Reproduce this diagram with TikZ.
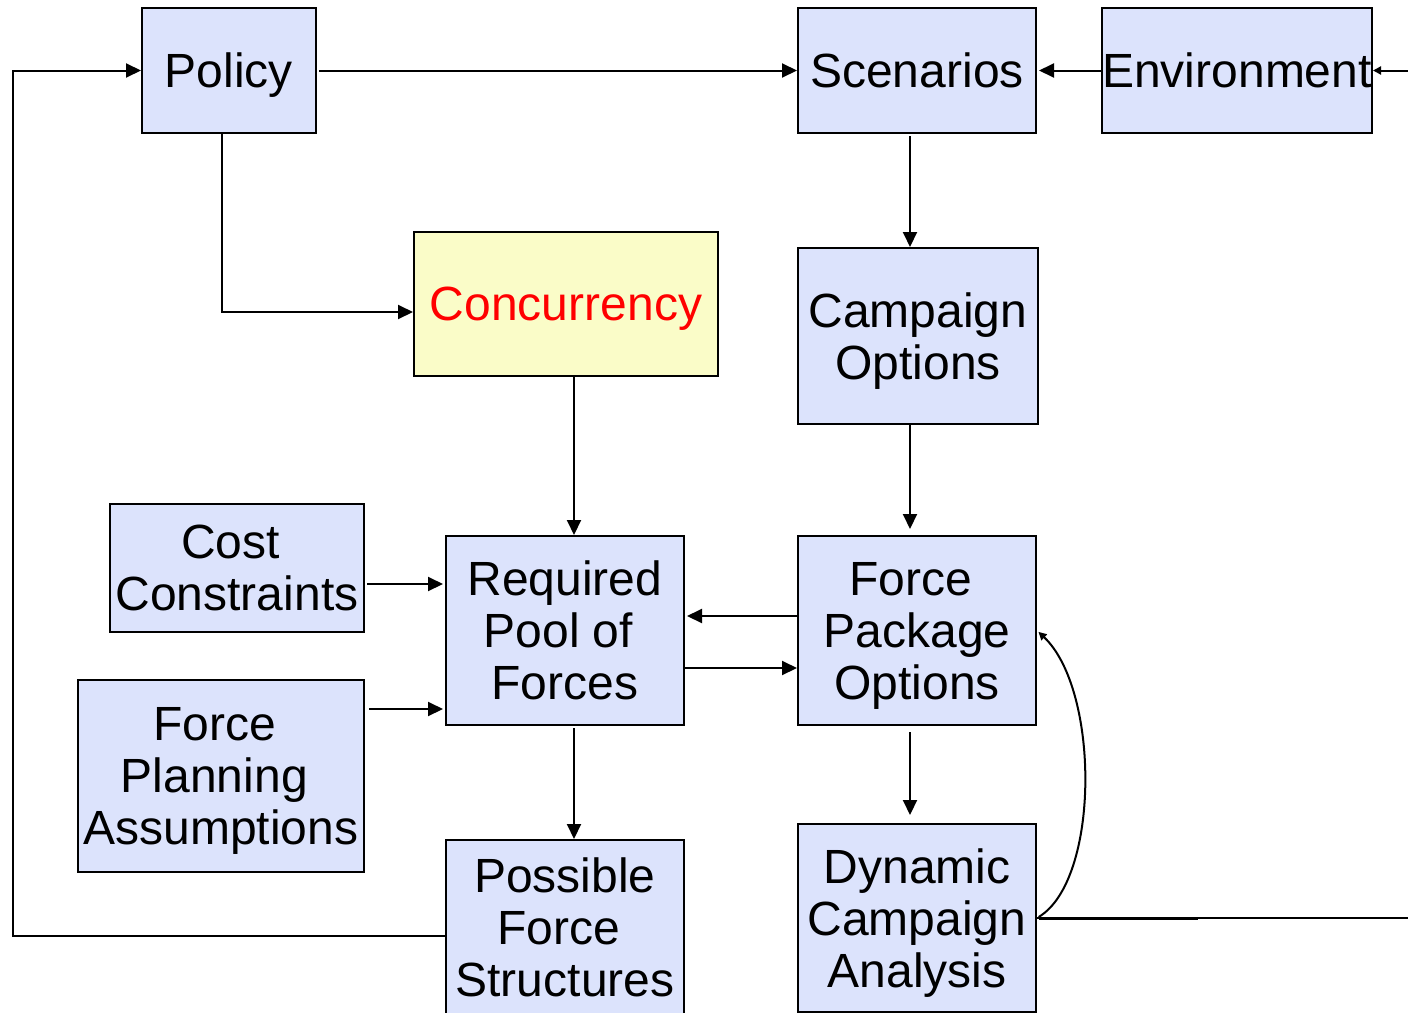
\documentclass[tikz,border=0pt]{standalone}
\usepackage{fontspec}
\setmainfont{Liberation Sans}
\usetikzlibrary{arrows.meta}
\definecolor{boxblue}{HTML}{DCE3FC}
\definecolor{boxyellow}{HTML}{FAFCC8}
\newcommand{\tsp}{\rule{13.3pt}{0pt}}
\begin{document}
\begin{tikzpicture}[x=1pt,y=-1pt,
  box/.style={draw=black, line width=2pt, fill=boxblue, inner sep=0pt, align=center,
              text depth=0pt, font=\fontsize{48}{52}\selectfont},
  arr/.style={line width=2pt, -{Triangle[length=15pt,width=14pt]}},
  sarr/.style={line width=2pt, -{Triangle[length=8pt,width=8pt]}},
  ln/.style={line width=2pt}]
\useasboundingbox (0,0) rectangle (1408,1012);
\clip (0,0) rectangle (1408,1012);
% nodes
\node[box, minimum width=174pt, minimum height=125pt] (policy) at (229,70.5) {Policy};
\node[box, minimum width=238pt, minimum height=125pt] (scen) at (917,70.5) {Scenarios};
\node[box, minimum width=270pt, minimum height=125pt] (env) at (1237,70.5) {Environment};
\node[box, fill=boxyellow, text=red, minimum width=304pt, minimum height=144pt] (conc) at (566,304) {Concurrency};
\node[box, minimum width=240pt, minimum height=176pt] (camp) at (918,336) {Campaign\\Options};
\node[box, minimum width=254pt, minimum height=128pt] (cost) at (237,568) {Cost\tsp\\Constraints};
\node[box, minimum width=238pt, minimum height=189pt] (rpf) at (565,630.5) {Required\\Pool of\tsp\\Forces};
\node[box, minimum width=238pt, minimum height=189pt] (fpo) at (917,630.5) {Force\tsp\\Package\\Options};
\node[box, minimum width=286pt, minimum height=192pt] (fpa) at (221,776) {Force\tsp\\Planning\tsp\\Assumptions};
\node[box, minimum width=238pt, minimum height=174pt] (pfs) at (565,927) {Possible\\Force\tsp\\Structures};
\node[box, minimum width=238pt, minimum height=188pt] (dca) at (917,918) {Dynamic\\Campaign\\Analysis};
% helper coordinates
\coordinate (colA) at (910,0);
\coordinate (colC) at (574,0);
\coordinate (colP) at (222,0);
\coordinate (pc) at (222,312);
\coordinate (lb) at (13,936);
\coordinate (lt) at (13,70.5);
\coordinate (rin) at (1410,70.5);
\coordinate (r1) at (0,584);
\coordinate (r2) at (0,709);
\coordinate (r3) at (0,616);
\coordinate (r4) at (0,668);
\coordinate (mid) at (1198,918);
\coordinate (rout) at (1410,918);
% connectors
\draw[arr, shorten <=2pt] (policy.east) -- (scen.west);
\draw[arr, shorten >=2pt] (env.west) -- (scen.east);
\draw[sarr] (rin) -- (env.east);
\draw[arr] (pfs.west |- lb) -- (lb) -- (lt) -- (policy.west);
\draw[arr] (policy.south -| colP) -- (pc) -- (conc.west |- pc);
\draw[arr, shorten <=2pt] (scen.south -| colA) -- (camp.north -| colA);
\draw[arr, shorten >=6pt] (camp.south -| colA) -- (fpo.north -| colA);
\draw[arr] (conc.south -| colC) -- (rpf.north -| colC);
\draw[arr, shorten <=2pt] (rpf.south -| colC) -- (pfs.north -| colC);
\draw[arr, shorten <=6pt, shorten >=8pt] (fpo.south -| colA) -- (dca.north -| colA);
\draw[arr, shorten <=2pt, shorten >=2pt] (cost.east |- r1) -- (rpf.west |- r1);
\draw[arr, shorten <=4pt, shorten >=2pt] (fpa.east |- r2) -- (rpf.west |- r2);
\draw[arr, shorten >=2pt] (fpo.west |- r3) -- (rpf.east |- r3);
\draw[arr] (rpf.east |- r4) -- (fpo.west |- r4);
\draw[sarr, shorten <=2pt, shorten >=2pt] (dca.east) .. controls (1100,880) and (1100,690) .. (fpo.east);
\draw[line width=3pt, shorten <=2pt] (dca.east) -- (mid);
\draw[ln] (dca.east) -- (rout);
\end{tikzpicture}
\end{document}
